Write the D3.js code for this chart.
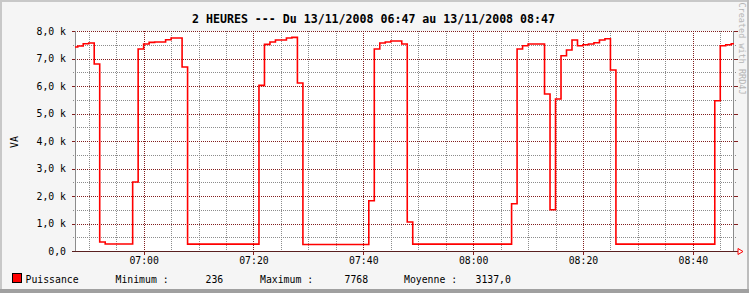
<!DOCTYPE html>
<html>
<head>
<meta charset="utf-8">
<script src="https://cdn.jsdelivr.net/npm/d3@7"></script>
<style>
  body { margin: 0; background: #f5f5f5; }
  svg { display: block; }
  text { font-family: "DejaVu Sans Mono", monospace; fill: #000; }
</style>
</head>
<body>
<div id="chart"></div>
<script>
// step change points (minute) and power values (VA)
var times = ["06:47","06:48","06:49","06:50","06:51","06:52","06:53","06:58","06:59",
  "07:00","07:01","07:02","07:04","07:05","07:07","07:08",
  "07:21","07:22","07:23","07:24","07:26","07:27","07:28","07:29",
  "07:41","07:42","07:43","07:44","07:45","07:47","07:48","07:49",
  "08:07","08:08","08:09","08:10","08:13","08:14","08:15","08:16","08:17","08:18",
  "08:19","08:20","08:21","08:22","08:23","08:24","08:25","08:26",
  "08:44","08:45","08:46","08:47"];
var values = [7418,7455,7538,7564,6800,327,255,2509,7345,
  7527,7585,7600,7684,7745,6690,250,
  6022,7513,7600,7673,7745,7768,6109,236,
  1829,7345,7564,7600,7636,7527,1054,250,
  1720,7345,7465,7527,5709,1500,5527,7102,7309,7673,
  7465,7502,7527,7574,7673,7720,6582,250,
  5465,7465,7502,7538];

var yTicks = [0,1000,2000,3000,4000,5000,6000,7000,8000];
var yTickLabels = ["0,0","1,0 k","2,0 k","3,0 k","4,0 k","5,0 k","6,0 k","7,0 k","8,0 k"];
var xTickLabels = ["07:00","07:20","07:40","08:00","08:20","08:40"];
var legendStats = [["Minimum :", "236"], ["Maximum :", "7768"], ["Moyenne :", "3137,0"]];
var title = "2 HEURES --- Du 13/11/2008 06:47 au 13/11/2008 08:47";

var W = 749, H = 293;
var pLeft = 75, pRight = 734, pTop = 31, pBottom = 251;

var parse = d3.timeParse("%Y-%m-%d %H:%M:%S");
function at(hm) { return parse("2008-11-13 " + hm + ":00"); }

var data = times.map(function(t, i) { return {t: at(t), v: values[i]}; });
var t0 = parse("2008-11-13 06:47:30"), t1 = parse("2008-11-13 08:47:30");
data.push({t: t1, v: values[values.length - 1]});

var x = d3.scaleTime().domain([t0, t1]).range([pLeft, pRight]);
var y = d3.scaleLinear().domain([0, 8000]).range([pBottom, pTop]);

var svg = d3.select("#chart").append("svg")
  .attr("width", W).attr("height", H);

// canvas + 3d frame
svg.append("rect").attr("width", W).attr("height", H).attr("fill", "#f5f5f5");
svg.append("rect").attr("x", 0).attr("y", 0).attr("width", W).attr("height", 2).attr("fill", "#c8c8c8");
svg.append("rect").attr("x", 0).attr("y", 0).attr("width", 2).attr("height", H).attr("fill", "#c8c8c8");
svg.append("rect").attr("x", W - 2).attr("y", 0).attr("width", 2).attr("height", H).attr("fill", "#bdbdbd");
svg.append("rect").attr("x", 0).attr("y", H - 4).attr("width", W).attr("height", 4).attr("fill", "#a0a0a0");

// plot background
svg.append("rect").attr("x", pLeft).attr("y", pTop)
  .attr("width", pRight - pLeft).attr("height", pBottom - pTop).attr("fill", "#fff");

var grid = svg.append("g").attr("shape-rendering", "crispEdges");

// minor grid, every 5 minutes and 500 VA
var minorX = d3.timeMinute.every(5).range(t0, t1);
var majorX = d3.timeMinute.every(20).range(t0, t1);
function isMajorX(d) { return d.getMinutes() % 20 === 0; }
function px(v) { return Math.round(v) + 0.5; }

grid.selectAll(".mx").data(minorX.filter(function(d) { return !isMajorX(d); }))
  .enter().append("line")
  .attr("x1", function(d) { return px(x(d)); })
  .attr("x2", function(d) { return px(x(d)); })
  .attr("y1", pTop).attr("y2", pBottom + 2)
  .attr("stroke", "#8c8c8c").attr("stroke-dasharray", "1,1");

var minorY = d3.range(500, 8000, 1000);
grid.selectAll(".my").data(minorY).enter().append("line")
  .attr("x1", pLeft - 2).attr("x2", pRight + 2)
  .attr("y1", function(d) { return px(y(d)); })
  .attr("y2", function(d) { return px(y(d)); })
  .attr("stroke", "#8c8c8c").attr("stroke-dasharray", "1,1");

// major grid
grid.selectAll(".Mx").data(majorX).enter().append("line")
  .attr("x1", function(d) { return px(x(d)); })
  .attr("x2", function(d) { return px(x(d)); })
  .attr("y1", pTop).attr("y2", pBottom)
  .attr("stroke", "#821e1e").attr("stroke-dasharray", "1,1");
grid.selectAll(".Mxt").data(majorX).enter().append("line")
  .attr("x1", function(d) { return px(x(d)); })
  .attr("x2", function(d) { return px(x(d)); })
  .attr("y1", pBottom).attr("y2", pBottom + 4)
  .attr("stroke", "#821e1e");

grid.selectAll(".My").data(yTicks.slice(1)).enter().append("line")
  .attr("x1", pLeft).attr("x2", pRight)
  .attr("y1", function(d) { return px(y(d)); })
  .attr("y2", function(d) { return px(y(d)); })
  .attr("stroke", "#821e1e").attr("stroke-dasharray", "1,1");
// y ticks on both sides
grid.selectAll(".Myl").data(yTicks).enter().append("line")
  .attr("x1", pLeft - 3).attr("x2", pLeft)
  .attr("y1", function(d) { return px(y(d)); })
  .attr("y2", function(d) { return px(y(d)); })
  .attr("stroke", "#821e1e");
grid.selectAll(".Myr").data(yTicks.slice(1)).enter().append("line")
  .attr("x1", pRight).attr("x2", pRight + 4)
  .attr("y1", function(d) { return px(y(d)); })
  .attr("y2", function(d) { return px(y(d)); })
  .attr("stroke", "#821e1e");

// axes lines
grid.append("line").attr("x1", pLeft + 0.5).attr("x2", pLeft + 0.5)
  .attr("y1", pTop).attr("y2", pBottom).attr("stroke", "#8c8c8c");
grid.append("line").attr("x1", pRight - 0.5).attr("x2", pRight - 0.5)
  .attr("y1", pTop).attr("y2", pBottom).attr("stroke", "#8c8c8c");
grid.append("line").attr("x1", pLeft - 3).attr("x2", pRight + 4)
  .attr("y1", pBottom + 0.5).attr("y2", pBottom + 0.5).attr("stroke", "#5a2020");
// arrow at end of x axis
svg.append("path")
  .attr("d", "M" + (pRight + 4) + "," + (pBottom - 2.5) + " L" + (pRight + 9) + "," + (pBottom + 0.5) +
             " L" + (pRight + 4) + "," + (pBottom + 3.5) + " Z")
  .attr("fill", "none").attr("stroke", "#ff0000").attr("stroke-width", 1);

// data line
svg.append("clipPath").attr("id", "clip").append("rect")
  .attr("x", pLeft).attr("y", pTop - 2).attr("width", pRight - pLeft).attr("height", pBottom - pTop + 4);

var line = d3.line()
  .x(function(d) { return x(d.t); })
  .y(function(d) { return y(d.v); })
  .curve(d3.curveStepAfter);

svg.append("path").datum(data)
  .attr("clip-path", "url(#clip)")
  .attr("d", line)
  .attr("fill", "none")
  .attr("stroke", "#ff0000")
  .attr("stroke-width", 1.6);

// labels
svg.selectAll(".yl").data(yTicks).enter().append("text")
  .attr("x", 66).attr("y", function(d) { return y(d) + 3.6; })
  .attr("text-anchor", "end").attr("font-size", "9.8px")
  .text(function(d, i) { return yTickLabels[i]; });

svg.selectAll(".xl").data(majorX).enter().append("text")
  .attr("x", function(d) { return x(d) + 0.5; }).attr("y", 263.5)
  .attr("text-anchor", "middle").attr("font-size", "9.8px")
  .text(function(d, i) { return xTickLabels[i]; });

svg.append("text")
  .attr("x", 373.5).attr("y", 22.5)
  .attr("text-anchor", "middle")
  .attr("font-size", "11.6px").attr("font-weight", "bold")
  .text(title);

svg.append("text")
  .attr("transform", "translate(17.5,142) rotate(-90)")
  .attr("text-anchor", "middle").attr("font-size", "9.8px")
  .text("VA");

svg.append("text")
  .attr("transform", "translate(738.5,48.5) rotate(90)")
  .attr("text-anchor", "middle").attr("font-size", "8.5px")
  .style("fill", "#b4b4b4")
  .text("Created with RRD4J");

// legend
svg.append("rect").attr("x", 12.5).attr("y", 273.5).attr("width", 9).attr("height", 9)
  .attr("fill", "#ff0000").attr("stroke", "#000").attr("stroke-width", 1);
svg.append("text").attr("x", 25.5).attr("y", 282.5).attr("font-size", "9.8px").text("Puissance");

var statX = [[115.5, 205.5], [260, 344.5], [404, 475.5]];
legendStats.forEach(function(s, i) {
  svg.append("text").attr("x", statX[i][0]).attr("y", 282.5).attr("font-size", "9.8px").text(s[0]);
  svg.append("text").attr("x", statX[i][1]).attr("y", 282.5).attr("font-size", "9.8px").text(s[1]);
});
</script>
</body>
</html>
